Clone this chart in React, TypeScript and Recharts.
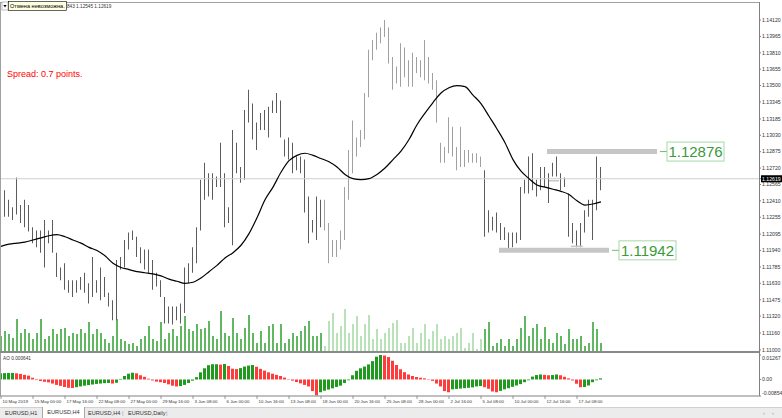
import React from "react";
import {
  ComposedChart,
  BarChart,
  Bar,
  Line,
  XAxis,
  YAxis,
  Cell,
  ReferenceLine,
} from "recharts";

// one sample every 2 H4 bars
const STEP = 2;
const X_DOMAIN: [number, number] = [-0.5, 379];

const HIGH = [
  1.1235, 1.1251, 1.1242, 1.1235, 1.1263, 1.1237, 1.1242, 1.1237, 1.1216, 1.1213,
  1.1213, 1.1223, 1.1213, 1.1223, 1.1192, 1.1178, 1.1182, 1.1166, 1.1166, 1.1166,
  1.1169, 1.1173, 1.1163, 1.1188, 1.1166, 1.1178, 1.1169, 1.1154, 1.1147, 1.1185,
  1.1188, 1.1204, 1.1211, 1.1213, 1.1207, 1.1197, 1.1195, 1.1195, 1.1185, 1.1173,
  1.1166, 1.115, 1.1141, 1.1141, 1.1141, 1.1144, 1.1178, 1.1182, 1.1197, 1.1216,
  1.1261, 1.1277, 1.1267, 1.1267, 1.1264, 1.1296, 1.1267, 1.1235, 1.1308, 1.1296,
  1.1273, 1.1327, 1.1346, 1.1333, 1.1315, 1.1324, 1.1327, 1.133, 1.1336, 1.1343,
  1.1336, 1.1299, 1.1301, 1.1296, 1.1283, 1.1283, 1.128, 1.1245, 1.1223, 1.1245,
  1.1242, 1.1242, 1.122, 1.1204, 1.1204, 1.1213, 1.1254, 1.1289, 1.1317, 1.1301,
  1.1308, 1.1343, 1.1384, 1.1393, 1.14, 1.1405, 1.1412, 1.1405, 1.1377, 1.1368,
  1.139, 1.1386, 1.1374, 1.1381, 1.1377, 1.1374, 1.1393, 1.1377, 1.1362, 1.1355,
  1.1296, 1.1292, 1.132, 1.1311, 1.1292, 1.1311, 1.1289, 1.1289, 1.1286, 1.1286,
  1.1283, 1.127, 1.1232, 1.1226, 1.123, 1.122, 1.1216, 1.1211, 1.1211, 1.1211,
  1.1254, 1.1261, 1.1283, 1.1286, 1.1261, 1.1273, 1.1273, 1.1267, 1.1277, 1.1283,
  1.1267, 1.1263, 1.1248, 1.122, 1.1213, 1.122, 1.1232, 1.1242, 1.1242, 1.1283,
  1.1273,
];

const LOW = [
  1.1216, 1.1226, 1.1226, 1.1223, 1.1228, 1.122, 1.1216, 1.1212, 1.1201, 1.1197,
  1.1192, 1.1178, 1.1201, 1.1192, 1.1169, 1.1166, 1.1157, 1.1154, 1.115, 1.1154,
  1.1157, 1.1154, 1.1144, 1.115, 1.1154, 1.1147, 1.115, 1.1141, 1.1128, 1.1128,
  1.1176, 1.1178, 1.1195, 1.1204, 1.1188, 1.1182, 1.1176, 1.1173, 1.1157, 1.116,
  1.115, 1.1125, 1.1125, 1.1124, 1.1128, 1.1125, 1.1135, 1.1163, 1.1173, 1.1182,
  1.1213, 1.1242, 1.1245, 1.1242, 1.1254, 1.1254, 1.1216, 1.122, 1.1199, 1.1267,
  1.1258, 1.1261, 1.1315, 1.1299, 1.1289, 1.1308, 1.1308, 1.1301, 1.1324, 1.1324,
  1.1301, 1.1283, 1.128, 1.1267, 1.127, 1.1267, 1.123, 1.1201, 1.1211, 1.1204,
  1.1216, 1.1213, 1.1182, 1.1188, 1.1188, 1.1195, 1.1204, 1.1242, 1.1267, 1.1283,
  1.1292, 1.1299, 1.1339, 1.1374, 1.1384, 1.139, 1.1396, 1.1371, 1.1346, 1.1352,
  1.1349, 1.1358, 1.1349, 1.1349, 1.1362, 1.1358, 1.1355, 1.1352, 1.1346, 1.1315,
  1.1277, 1.1277, 1.1286, 1.1283, 1.127, 1.1273, 1.1273, 1.1277, 1.1277, 1.1277,
  1.1273, 1.1207, 1.1211, 1.1213, 1.1211, 1.1204, 1.1204, 1.1193, 1.1197, 1.1201,
  1.1204, 1.1248, 1.1248, 1.1251, 1.1245, 1.1251, 1.1254, 1.1239, 1.1264, 1.1264,
  1.1251, 1.1254, 1.1207, 1.1201, 1.1197, 1.1197, 1.1211, 1.1226, 1.1204, 1.1232,
  1.1251,
];

// moving average, one value every 2 samples
const MA = [
  1.1198, 1.12, 1.1201, 1.1202, 1.1204, 1.1206, 1.1208, 1.1209, 1.1207, 1.1204,
  1.1201, 1.1197, 1.1194, 1.1189, 1.1182, 1.1178, 1.1176, 1.1174, 1.1173, 1.1172,
  1.117, 1.1167, 1.1165, 1.1163, 1.1164, 1.1168, 1.1174, 1.118, 1.1187, 1.1192,
  1.1199, 1.121, 1.1225, 1.1242, 1.1254, 1.1268, 1.1279, 1.1284, 1.1286, 1.1284,
  1.1281, 1.1278, 1.1273, 1.1266, 1.1262, 1.1261, 1.1262, 1.1266, 1.1272, 1.128,
  1.1288, 1.1299, 1.1313, 1.1324, 1.1334, 1.1343, 1.1348, 1.135, 1.1349, 1.1341,
  1.1333, 1.1321, 1.1309, 1.1296, 1.128, 1.1269, 1.1262, 1.1256, 1.1254, 1.1252,
  1.125, 1.1247, 1.1241, 1.1237, 1.1238, 1.124,
];

const VOLUME = [
  3000, 4000, 3400, 2600, 6400, 3600, 4400, 3600, 2400, 3600,
  6400, 2400, 3000, 4400, 3400, 4400, 4600, 3000, 3600, 3400,
  4400, 3600, 5800, 3400, 4400, 3600, 2400, 1600, 3000, 6400,
  2400, 2000, 1400, 1600, 1000, 2400, 3000, 5000, 2400, 2000,
  5800, 2400, 3600, 4400, 3000, 5000, 7000, 4400, 4000, 5400,
  4400, 4600, 6000, 3000, 2400, 8000, 3600, 3000, 6600, 3600,
  2400, 4600, 7200, 3600, 1600, 4000, 1600, 5000, 5400, 1600,
  5400, 1600, 2400, 3600, 3000, 4000, 5000, 6000, 3000, 3000,
  3600, 1000, 6000, 7600, 3600, 5000, 8400, 3600, 5400, 7000,
  3000, 5400, 7200, 2400, 4400, 2400, 3600, 4600, 5600, 6200,
  1600, 1600, 3000, 4600, 1600, 3600, 5400, 2400, 4000, 5400,
  2400, 3000, 2400, 3000, 3600, 4600, 600, 1600, 3600, 400,
  2400, 4400, 5800, 1000, 1600, 2400, 1000, 2400, 1000, 2400,
  4600, 7000, 3000, 4600, 5400, 2400, 4800, 2400, 1600, 3600,
  3000, 1400, 4400, 2400, 2400, 3000, 1000, 1600, 5800, 4400,
  1600,
];

const AO = [
  0.0032, 0.0033, 0.0034, 0.0034, 0.0032, 0.0029, 0.0024, 0.002, 0.0009, -0.0003,
  -0.0008, -0.0012, -0.0015, -0.0021, -0.0028, -0.0033, -0.0039, -0.0043, -0.0044, -0.004,
  -0.0036, -0.0032, -0.0029, -0.0026, -0.0023, -0.0021, -0.0019, -0.0018, -0.0021, -0.0017,
  0.0003, 0.0018, 0.003, 0.0035, 0.0032, 0.0022, 0.0014, 0.0004, -0.0005, -0.0011,
  -0.0014, -0.0018, -0.0025, -0.0032, -0.0036, -0.0034, -0.0028, -0.0018, -0.0006, 0.0012,
  0.0037, 0.0058, 0.0074, 0.0079, 0.0079, 0.0077, 0.008, 0.007, 0.0056, 0.0054,
  0.0059, 0.0067, 0.0072, 0.0075, 0.0066, 0.0055, 0.0046, 0.0037, 0.003, 0.0024,
  0.0018, 0.001, 0.0002, -0.0006, -0.0013, -0.002, -0.0028, -0.0036, -0.006, -0.0082,
  -0.0066, -0.0058, -0.0052, -0.0046, -0.0039, -0.0032, -0.0018, -0.0004, 0.0022, 0.0045,
  0.0058, 0.0067, 0.0078, 0.0095, 0.0118, 0.0127, 0.0124, 0.0116, 0.0097, 0.0075,
  0.0053, 0.0038, 0.0026, 0.0018, 0.0013, 0.0009, 0.0006, 0.0002, -0.0007, -0.0021,
  -0.0036, -0.006, -0.0066, -0.0051, -0.0049, -0.0047, -0.0045, -0.0043, -0.0041, -0.0036,
  -0.0034, -0.004, -0.0048, -0.0062, -0.0066, -0.0059, -0.0051, -0.0045, -0.0038, -0.0031,
  -0.0024, -0.0014, -0.0004, 0.0015, 0.0023, 0.0026, 0.0024, 0.0022, 0.0023, 0.0026,
  0.0022, 0.0014, 0.0006, -0.0005, -0.0022, -0.004, -0.0039, -0.0031, -0.0014, -0.0004,
  0.0006,
];

const PRICE_TICKS = [
  1.1412, 1.13965, 1.1381, 1.13655, 1.135, 1.13345, 1.13185, 1.1303, 1.12875, 1.1272,
  1.12565, 1.1241, 1.12255, 1.12095, 1.1194, 1.11785, 1.1163, 1.11475, 1.1132, 1.1116,
  1.11,
];
const CURRENT_PRICE = 1.12619;
const AO_TICKS = [0.01267, 0, -0.00854];

const TIME_TICKS = [0, 16, 32, 48, 64, 80, 96, 112, 128, 144, 160, 176, 192, 208, 224, 240, 256, 272, 288];
const TIME_LABELS = [
  "10 May 2019", "15 May 00:00", "17 May 16:00", "22 May 08:00", "27 May 00:00",
  "29 May 16:00", "3 Jun 08:00", "6 Jun 00:00", "10 Jun 16:00", "13 Jun 08:00",
  "18 Jun 00:00", "20 Jun 16:00", "25 Jun 08:00", "28 Jun 00:00", "2 Jul 16:00",
  "5 Jul 08:00", "10 Jul 00:00", "12 Jul 16:00", "17 Jul 08:00",
];

const RESISTANCE = 1.12876;
const SUPPORT = 1.11942;

// samples drawn in the lighter shade
const LIGHT_FROM = 81;
const LIGHT_TO = 120;

const FONT = "'Liberation Sans', Arial, sans-serif";

const priceRows = HIGH.map((h, k) => ({
  t: k * STEP,
  range: [LOW[k], h],
  ma: k % 2 === 0 ? MA[k / 2] : null,
}));
const volRows = VOLUME.map((v, k) => ({ t: k * STEP, vol: v }));
const aoRows = AO.map((v, k) => ({ t: k * STEP, ao: v }));

const isLight = (k: number) => k >= LIGHT_FROM && k <= LIGHT_TO;

const PriceTick = (props: any) => {
  const { x, y, payload } = props;
  const v = payload.value as number;
  if (v === CURRENT_PRICE) {
    return (
      <g>
        <rect x={x - 1} y={y - 3.5} width={21} height={7} fill="#000" />
        <text x={x} y={y} dy="0.35em" fontSize={5.2} fill="#fff" fontFamily={FONT}>
          {v.toFixed(5)}
        </text>
      </g>
    );
  }
  return (
    <text x={x} y={y} dy="0.35em" fontSize={5.2} fill="#333" fontFamily={FONT}>
      {v.toFixed(5)}
    </text>
  );
};

const AoTick = (props: any) => {
  const { x, y, payload } = props;
  const v = payload.value as number;
  const shift = v > 0 ? 3 : v < 0 ? -3 : 0;
  return (
    <text x={x} y={y + shift} dy="0.35em" fontSize={5.2} fill="#333" fontFamily={FONT}>
      {v === 0 ? "0.00" : v.toFixed(5)}
    </text>
  );
};

const TimeTick = (props: any) => {
  const { x, y, payload } = props;
  const i = TIME_TICKS.indexOf(payload.value);
  return (
    <g>
      <line x1={x} y1={y} x2={x} y2={y + 3} stroke="#808080" strokeWidth={0.8} />
      <text x={x + 1.5} y={y + 6.8} fontSize={4.4} fill="#333" fontFamily={FONT}>
        {TIME_LABELS[i]}
      </text>
    </g>
  );
};

const PriceTag = (props: any) => {
  const { viewBox, text } = props;
  if (!viewBox) return null;
  const x = viewBox.x + viewBox.width;
  const y = viewBox.y;
  return (
    <g>
      <line x1={x + 3} y1={y} x2={x + 10} y2={y} stroke="#4aa84a" strokeWidth={0.8} />
      <rect x={x + 10} y={y - 9.5} width={57} height={19} fill="#fff" stroke="#a8d8a8" />
      <text
        x={x + 38.5}
        y={y}
        dy="0.36em"
        textAnchor="middle"
        fontSize={15}
        fill="#3a9a3a"
        fontFamily={FONT}
      >
        {text}
      </text>
    </g>
  );
};

const Tabs = () => (
  <div
    style={{
      position: "absolute",
      left: 0,
      top: 407,
      width: 782,
      height: 11,
      background: "#ececec",
      borderTop: "1px solid #d0d0d0",
      fontFamily: FONT,
      fontSize: 5.6,
      color: "#333",
      lineHeight: "10px",
    }}
  >
    <span style={{ position: "absolute", left: 5 }}>EURUSD,H1</span>
    <span
      style={{
        position: "absolute",
        left: 42,
        top: -1,
        width: 41,
        height: 11,
        background: "#fff",
        border: "1px solid #a8a8a8",
        borderTop: "none",
        textAlign: "center",
      }}
    >
      EURUSD,H4
    </span>
    <span style={{ position: "absolute", left: 88 }}>EURUSD,H4</span>
    <span style={{ position: "absolute", left: 122, color: "#999" }}>|</span>
    <span style={{ position: "absolute", left: 128 }}>EURUSD,Daily</span>
    <span style={{ position: "absolute", left: 166, color: "#999" }}>|</span>
    <span style={{ position: "absolute", left: 763, color: "#999" }}>‹</span>
    <span style={{ position: "absolute", left: 772, color: "#999" }}>›</span>
  </div>
);

const App: React.FC = () => {
  return (
    <div
      style={{
        position: "absolute",
        left: 0,
        top: 0,
        width: 782,
        height: 418,
        background: "#fff",
        overflow: "hidden",
        fontFamily: FONT,
      }}
    >
      {/* volumes sit behind the price bars */}
      <div style={{ position: "absolute", left: 0, top: 0 }}>
        <BarChart width={782} height={352} data={volRows} margin={{ top: 3, right: 23, bottom: 1, left: 0 }}>
          <XAxis type="number" dataKey="t" domain={X_DOMAIN} allowDataOverflow hide />
          <YAxis hide domain={[0, 69600]} />
          <Bar dataKey="vol" barSize={2} isAnimationActive={false}>
            {VOLUME.map((_, k) => (
              <Cell key={k} fill={isLight(k) ? "#b9e2b9" : "#62b862"} />
            ))}
          </Bar>
        </BarChart>
      </div>

      <div style={{ position: "absolute", left: 0, top: 0 }}>
        <ComposedChart width={782} height={352} data={priceRows} margin={{ top: 3, right: 0, bottom: 1, left: 0 }}>
          <XAxis type="number" dataKey="t" domain={X_DOMAIN} allowDataOverflow hide />
          <YAxis
            orientation="right"
            width={23}
            domain={[1.1099, 1.14281]}
            allowDataOverflow
            ticks={[...PRICE_TICKS, CURRENT_PRICE]}
            interval={0}
            tick={<PriceTick />}
            tickSize={2}
            tickMargin={1}
            tickLine={{ stroke: "#808080" }}
            axisLine={false}
          />
          <ReferenceLine y={CURRENT_PRICE} stroke="#cfcfcf" strokeWidth={1} />
          <ReferenceLine
            segment={[{ x: 273, y: RESISTANCE }, { x: 328, y: RESISTANCE }]}
            stroke="#c6c6c6"
            strokeWidth={5}
            label={<PriceTag text={RESISTANCE.toFixed(5)} />}
          />
          <ReferenceLine
            segment={[{ x: 249, y: SUPPORT }, { x: 304, y: SUPPORT }]}
            stroke="#c6c6c6"
            strokeWidth={5}
            label={<PriceTag text={SUPPORT.toFixed(5)} />}
          />
          <ReferenceLine
            segment={[{ x: 274, y: 1.126 }, { x: 279, y: 1.126 }]}
            stroke="#c8c8c8"
            strokeWidth={1.5}
          />
          <ReferenceLine
            segment={[{ x: 285, y: 1.1198 }, { x: 291, y: 1.1198 }]}
            stroke="#c8c8c8"
            strokeWidth={1.5}
          />
          <Bar dataKey="range" barSize={1} isAnimationActive={false}>
            {HIGH.map((_, k) => (
              <Cell key={k} fill={isLight(k) ? "#a0a0a0" : "#5c5c5c"} />
            ))}
          </Bar>
          <Line
            type="monotone"
            dataKey="ma"
            stroke="#000"
            strokeWidth={1.2}
            dot={false}
            connectNulls
            isAnimationActive={false}
          />
        </ComposedChart>
      </div>

      <div style={{ position: "absolute", left: 0, top: 352 }}>
        <BarChart width={782} height={55} data={aoRows} margin={{ top: 3, right: 0, bottom: 0, left: 0 }}>
          <XAxis
            type="number"
            dataKey="t"
            domain={X_DOMAIN}
            allowDataOverflow
            ticks={TIME_TICKS}
            interval={0}
            tick={<TimeTick />}
            tickSize={0}
            tickMargin={0}
            tickLine={false}
            axisLine={{ stroke: "#808080" }}
            height={11}
          />
          <YAxis
            orientation="right"
            width={23}
            domain={[-0.00854, 0.01267]}
            allowDataOverflow
            ticks={AO_TICKS}
            interval={0}
            tick={<AoTick />}
            tickSize={2}
            tickMargin={1}
            tickLine={{ stroke: "#808080" }}
            axisLine={false}
          />
          <Bar dataKey="ao" barSize={3} isAnimationActive={false}>
            {AO.map((v, k) => (
              <Cell key={k} fill={k > 0 && v < AO[k - 1] ? "#ff3c3c" : "#1f9a1f"} />
            ))}
          </Bar>
        </BarChart>
      </div>

      {/* frame, panel separator and axis line */}
      <div style={{ position: "absolute", left: 0, top: 2, width: 759, height: 394, borderLeft: "1px solid #a0a0a0", borderTop: "1px solid #a0a0a0", boxSizing: "border-box" }} />
      <div style={{ position: "absolute", left: 0, top: 351, width: 759, height: 2, background: "#8a8a8a" }} />
      <div style={{ position: "absolute", left: 759, top: 2, width: 1, height: 394, background: "#808080" }} />

      <svg width={782} height={418} style={{ position: "absolute", left: 0, top: 0, pointerEvents: "none" }}>
        <rect x={2} y={2} width={6} height={8} fill="#fff" stroke="#909090" strokeWidth={0.6} />
        <path d="M3.4 5 L6.6 5 L5 7.4 Z" fill="#000" />
        <rect x={8.5} y={1.5} width={58} height={9} fill="#ffffe1" stroke="#000" strokeWidth={0.6} />
        <text x={10} y={8.2} fontSize={5.6} fill="#000" fontFamily={FONT}>
          Отмена невозможна.
        </text>
        <text x={67} y={8} fontSize={4.7} fill="#333" fontFamily={FONT}>
          843 1.12545 1.12619
        </text>
        <text x={7} y={77} fontSize={9} fill="#ff0000" fontFamily={FONT}>
          Spread: 0.7 points.
        </text>
        <text x={3} y={360} fontSize={4.75} fill="#333" fontFamily={FONT}>
          AO 0.000641
        </text>
      </svg>

      <Tabs />
    </div>
  );
};

export default App;
